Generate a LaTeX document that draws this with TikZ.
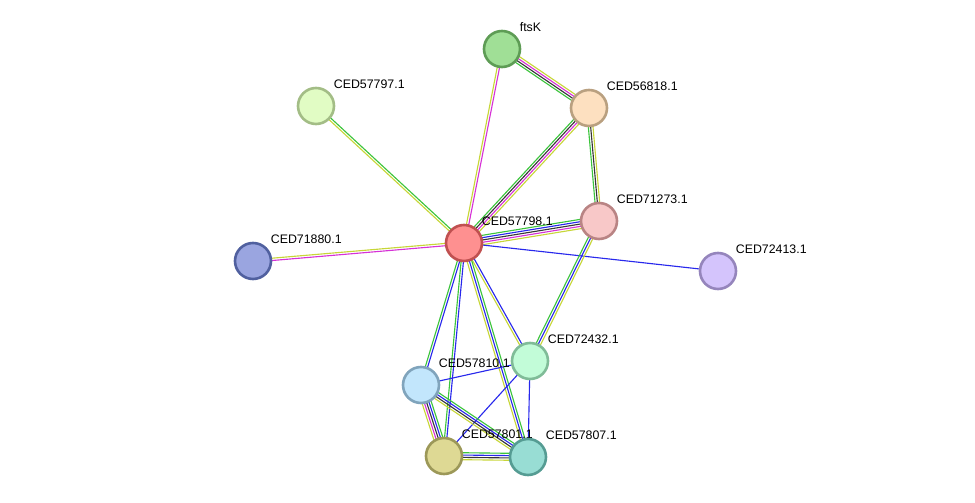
\documentclass[tikz,border=0pt]{standalone}
\usepackage{fontspec}
\setmainfont{Liberation Sans}
\usetikzlibrary{calc,backgrounds}
% evidence channels
\definecolor{tmine}{RGB}{199,214,56}
\definecolor{exper}{RGB}{214,50,214}
\definecolor{coexp}{RGB}{55,55,55}
\definecolor{neigh}{RGB}{60,196,60}
\definecolor{cooc}{RGB}{40,40,236}

\tikzset{
  prot/.style={circle, minimum size=0.9cm, inner sep=0pt, line width=0.065cm,
    label={[lbl, label distance=2.5pt]45:#1}},
  lbl/.style={font=\fontsize{8.8pt}{10pt}\selectfont, inner sep=1pt, text=black},
  edge/.style={line width=0.8pt}
}

% one line per evidence channel, spread side by side
\newcommand{\link}[3]{%
  \xdef\nlines{0}%
  \foreach \c in {#3}{\pgfmathtruncatemacro\tmp{\nlines+1}\xdef\nlines{\tmp}}%
  \foreach \c [count=\i] in {#3}{%
    \pgfmathsetmacro\off{(\i-(\nlines+1)/2)*1.65}%
    \draw[edge, draw=\c] ($(#1.center)!\off pt!90:(#2.center)$) -- ($(#2.center)!\off pt!-90:(#1.center)$);
  }}

\begin{document}
\begin{tikzpicture}[x=0.025cm, y=-0.025cm]
\useasboundingbox (0,0) rectangle (975,503);

% proteins
\node[prot=ftsK, fill={rgb,255:red,160;green,223;blue,150}, draw={rgb,255:red,94;green,156;blue,85}] (ftsK) at (502,49) {};
\node[prot=CED56818.1, fill={rgb,255:red,253;green,224;blue,192}, draw={rgb,255:red,185;green,160;blue,128}] (p56818) at (589,108) {};
\node[prot=CED57797.1, fill={rgb,255:red,225;green,252;blue,196}, draw={rgb,255:red,163;green,189;blue,134}] (p57797) at (316,106) {};
\node[prot=CED71273.1, fill={rgb,255:red,248;green,200;blue,200}, draw={rgb,255:red,185;green,132;blue,132}] (p71273) at (599,221) {};
\node[prot=CED57798.1, fill={rgb,255:red,254;green,144;blue,144}, draw={rgb,255:red,192;green,80;blue,80}] (p57798) at (464,243) {};
\node[prot=CED71880.1, fill={rgb,255:red,154;green,165;blue,224}, draw={rgb,255:red,80;green,96;blue,159}] (p71880) at (253,261) {};
\node[prot=CED72413.1, fill={rgb,255:red,212;green,196;blue,252}, draw={rgb,255:red,149;green,133;blue,188}] (p72413) at (718,271) {};
\node[prot=CED72432.1, fill={rgb,255:red,194;green,252;blue,216}, draw={rgb,255:red,128;green,188;blue,152}] (p72432) at (530,361) {};
\node[prot=CED57810.1, fill={rgb,255:red,194;green,230;blue,252}, draw={rgb,255:red,128;green,164;blue,188}] (p57810) at (421,385) {};
\node[prot=CED57801.1, fill={rgb,255:red,222;green,217;blue,148}, draw={rgb,255:red,156;green,152;blue,88}] (p57801) at (444,456) {};
\node[prot=CED57807.1, fill={rgb,255:red,152;green,221;blue,212}, draw={rgb,255:red,85;green,156;blue,147}] (p57807) at (528,457) {};

% interactions
\begin{pgfonlayer}{background}
\link{ftsK}{p56818}{neigh,coexp,exper,tmine}
\link{ftsK}{p57798}{tmine,exper}
\link{p56818}{p57798}{neigh,coexp,exper,tmine}
\link{p56818}{p71273}{neigh,coexp,tmine}
\link{p57797}{p57798}{tmine,neigh}
\link{p71880}{p57798}{exper,tmine}
\link{p57798}{p71273}{tmine,exper,coexp,cooc,neigh}
\link{p57798}{p72413}{cooc}
\link{p71273}{p72432}{neigh,cooc,tmine}
\link{p57798}{p72432}{tmine,cooc}
\link{p57798}{p57810}{neigh,cooc}
\link{p57798}{p57801}{neigh,cooc}
\link{p57798}{p57807}{tmine,cooc,neigh}
\link{p57810}{p72432}{cooc}
\link{p57801}{p72432}{cooc}
\link{p57807}{p72432}{cooc}
\link{p57810}{p57801}{tmine,exper,coexp,cooc,neigh}
\link{p57810}{p57807}{tmine,coexp,cooc,neigh}
\link{p57801}{p57807}{tmine,coexp,cooc,neigh}
\end{pgfonlayer}
\end{tikzpicture}
\end{document}
